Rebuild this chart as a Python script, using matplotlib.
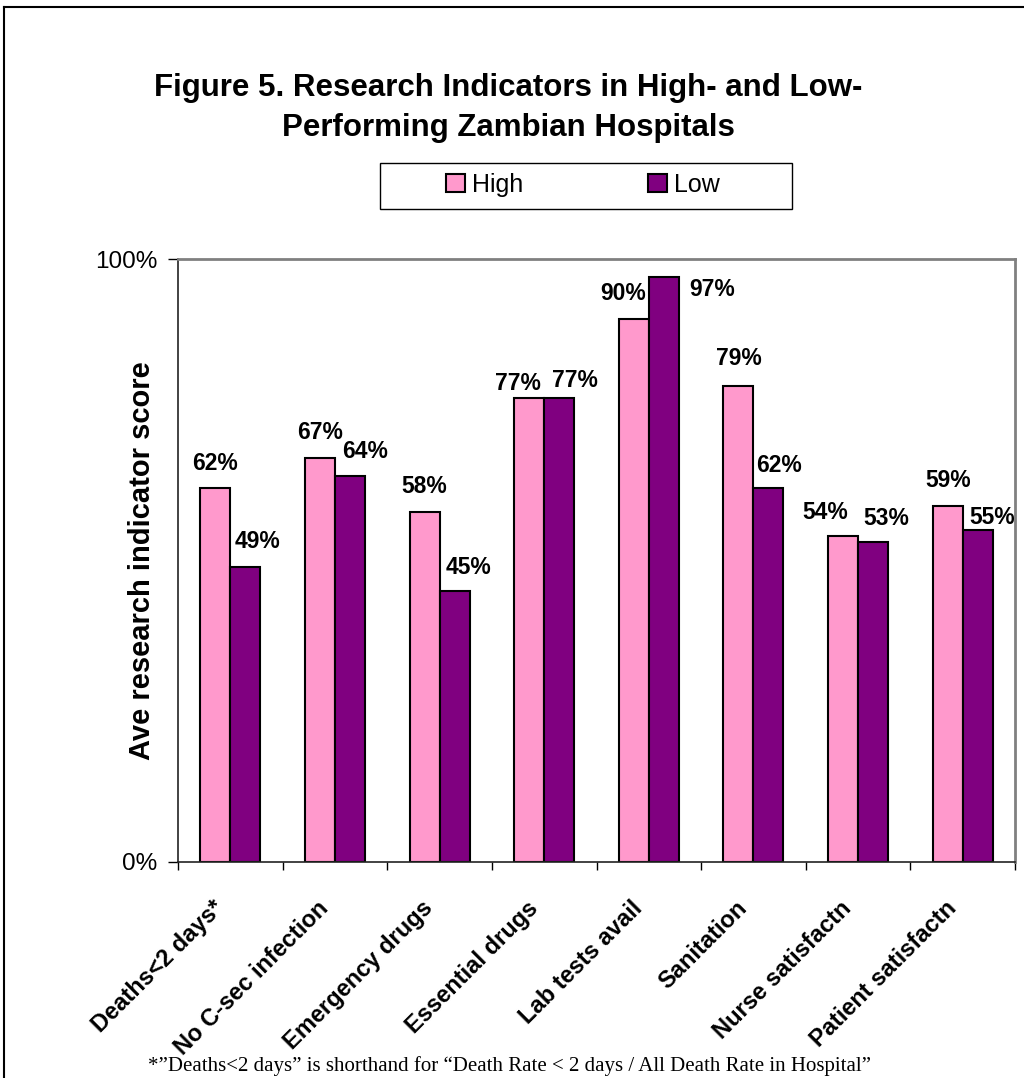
import matplotlib
matplotlib.use("Agg")
import matplotlib.pyplot as plt
import numpy as np
from matplotlib.patches import Patch, Rectangle
from matplotlib.lines import Line2D
from matplotlib.transforms import ScaledTranslation

plt.rcParams["font.family"] = ["Liberation Sans", "DejaVu Sans"]

# indicator scores (%)
categories = ["Deaths<2 days*", "No C-sec infection", "Emergency drugs", "Essential drugs",
              "Lab tests avail", "Sanitation", "Nurse satisfactn", "Patient satisfactn"]
high = [62, 67, 58, 77, 90, 79, 54, 59]
low = [49, 64, 45, 77, 97, 62, 53, 55]

# hand placed label offsets (pixels) relative to the bar tops
high_off = [(0, 25), (0, 25), (0, 26), (-11, 14), (-11, 26), (0, 27), (-18, 24), (0, 26)]
low_off = [(12, 25), (15, 25), (14, 23), (16, 17), (48, -12), (11, 23), (13, 24), (14, 13)]

pink = "#FF99CC"
purple = "#800080"

W, H = 1024, 1078
fig = plt.figure(figsize=(W / 100, H / 100), dpi=100)
ax = fig.add_axes([178 / W, 1 - 862 / H, 837 / W, 603 / H])

x = np.arange(len(categories))
bw = 0.287
ax.bar(x - bw / 2, high, bw, color=pink, edgecolor="black", linewidth=1.5, label="High")
ax.bar(x + bw / 2, low, bw, color=purple, edgecolor="black", linewidth=1.5, label="Low")

for i in range(len(categories)):
    ax.annotate(f"{high[i]}%", (x[i] - bw / 2, high[i]), xytext=high_off[i],
                textcoords="offset pixels", ha="center", va="center",
                fontsize=16.5, fontweight="bold")
    ax.annotate(f"{low[i]}%", (x[i] + bw / 2, low[i]), xytext=low_off[i],
                textcoords="offset pixels", ha="center", va="center",
                fontsize=16.5, fontweight="bold")

ax.set_xlim(-0.5, len(categories) - 0.5)
ax.set_ylim(0, 100)
ax.set_yticks([0, 100])
ax.set_yticklabels(["0%", "100%"], fontsize=17.5)
ax.tick_params(axis="y", length=7, width=1, pad=8)

ax.set_xticks(x)
ax.set_xticklabels(categories, rotation=45, ha="right", rotation_mode="anchor",
                   fontsize=17, fontweight="bold")
ax.tick_params(axis="x", which="major", length=0, pad=25)
shift = ScaledTranslation(-18 / 100, 0, fig.dpi_scale_trans)
for lbl in ax.get_xticklabels():
    lbl.set_transform(lbl.get_transform() + shift)
ax.set_xticks(np.arange(len(categories) + 1) - 0.5, minor=True)
ax.tick_params(axis="x", which="minor", length=6, width=1)

for s in ("top", "right"):
    ax.spines[s].set_color("#808080")
    ax.spines[s].set_linewidth(2)
for s in ("left", "bottom"):
    ax.spines[s].set_color("#222222")
    ax.spines[s].set_linewidth(1.2)

ax.set_ylabel("Ave research indicator score", fontsize=21, fontweight="bold")
ax.yaxis.set_label_coords(-22 / 837, 0.5)

fig.text(508 / W, 1 - 108 / H, "Figure 5. Research Indicators in High- and Low-\nPerforming Zambian Hospitals",
         ha="center", va="center", fontsize=22.5, fontweight="bold", linespacing=1.45)

# legend box
fig.patches.append(Rectangle((380 / W, 1 - 209 / H), 412 / W, 46 / H, transform=fig.transFigure,
                             facecolor="white", edgecolor="black", linewidth=1))
handles = [Patch(facecolor=pink, edgecolor="black", linewidth=1.5, label="High"),
           Patch(facecolor=purple, edgecolor="black", linewidth=1.5, label="Low")]
fig.legend(handles=handles, loc="center", bbox_to_anchor=(583 / W, 1 - 185 / H), ncol=2,
           frameon=False, fontsize=18, handlelength=0.75, handleheight=0.75,
           handletextpad=0.3, columnspacing=5.0)

# outer frame
fig.add_artist(Line2D([4 / W, 1], [1 - 7 / H, 1 - 7 / H], color="black", linewidth=1.5))
fig.add_artist(Line2D([4 / W, 4 / W], [0, 1 - 7 / H], color="black", linewidth=1.5))

fig.text(510 / W, 1 - 1066 / H,
         "*\u201dDeaths<2 days\u201d is shorthand for \u201cDeath Rate < 2 days / All Death Rate in Hospital\u201d",
         ha="center", va="center", fontsize=15, family=["Liberation Serif", "DejaVu Serif"])

fig.savefig("out.png", dpi=100)
